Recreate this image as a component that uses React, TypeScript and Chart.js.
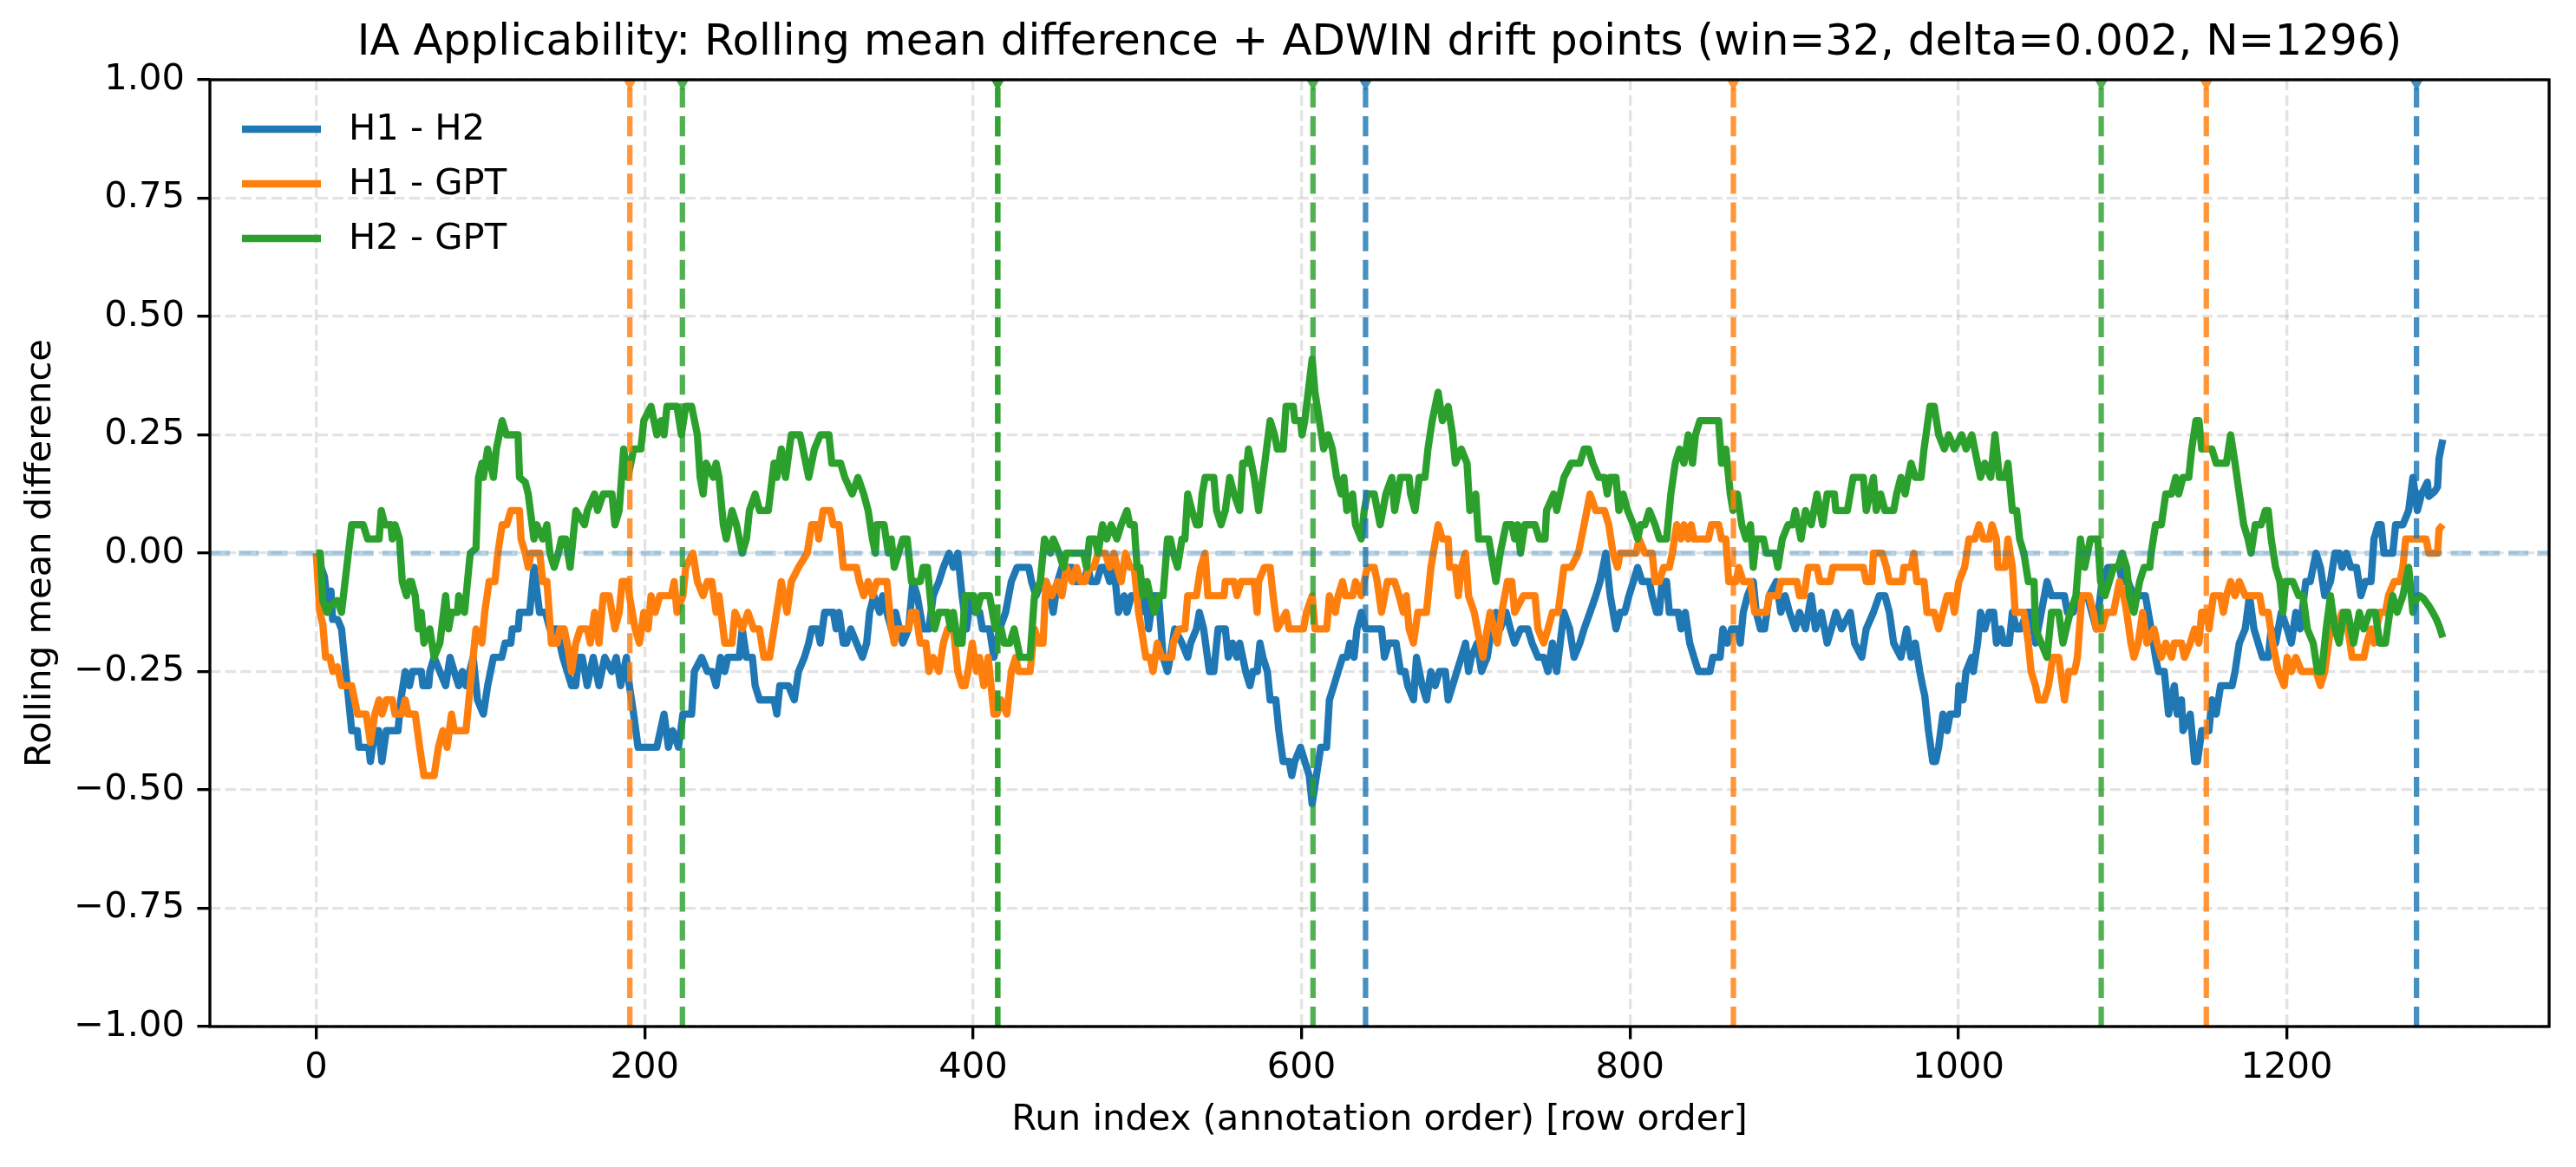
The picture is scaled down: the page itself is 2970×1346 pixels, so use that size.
import React, { useEffect, useRef } from "react";
import { Chart, registerables } from "chart.js";

Chart.register(...registerables);

// ---------- data (run index, rolling mean difference) ----------
const TITLE = "IA Applicability: Rolling mean difference + ADWIN drift points (win=32, delta=0.002, N=1296)";
const X_LABEL = "Run index (annotation order) [row order]";
const Y_LABEL = "Rolling mean difference";
const SERIES_LABELS = ["H1 - H2", "H1 - GPT", "H2 - GPT"];
const X_TICKS = [0, 200, 400, 600, 800, 1000, 1200];
const Y_TICKS = [-1, -0.75, -0.5, -0.25, 0, 0.25, 0.5, 0.75, 1];

const H1_H2: [number, number][] = [
  [0,0],[5,-0.05],[6.6,-0.1],[9,-0.08],[10,-0.14],[13,-0.14],[15.4,-0.16],[21.6,-0.375],[25,-0.375],[26,-0.41],[32,-0.41],[33,-0.44],[35.7,-0.375],[38,-0.375],[40,-0.44],[42.7,-0.375],[49.8,-0.375],[51.5,-0.31],[54.2,-0.25],[56.8,-0.28],[58.6,-0.25],[64,-0.25],[65,-0.28],[68.5,-0.28],[69.2,-0.25],[71.8,-0.22],[75.3,-0.25],[78.8,-0.28],[81.5,-0.22],[84,-0.25],[86.8,-0.28],[89,-0.25],[91.2,-0.28],[95.6,-0.22],[98.2,-0.31],[101.8,-0.34],[104.4,-0.28],[107.9,-0.22],[113,-0.22],[115,-0.19],[118.5,-0.19],[119.4,-0.16],[123,-0.16],[123.8,-0.125],[130,-0.125],[132.6,-0.03],[136,-0.125],[139.6,-0.125],[142.3,-0.16],[146.5,-0.16],[150.2,-0.22],[155.5,-0.28],[158,-0.28],[159.9,-0.22],
  [162,-0.22],[165,-0.28],[168.7,-0.22],[172.2,-0.28],[175.7,-0.22],[180,-0.25],[182.7,-0.22],[185.4,-0.28],[188.9,-0.22],[190.7,-0.28],[193.3,-0.34],[196,-0.41],[207.4,-0.41],[211.8,-0.34],[214.5,-0.41],[217.1,-0.375],[220.6,-0.41],[223.3,-0.34],[228.6,-0.34],[230.3,-0.25],[234.7,-0.22],[238.2,-0.25],[241,-0.25],[243.5,-0.28],[246.2,-0.22],[248.8,-0.25],[250.6,-0.22],[257.6,-0.22],[259.4,-0.16],[262,-0.22],[265.6,-0.22],[267.3,-0.28],[270,-0.31],[278.8,-0.31],[280.5,-0.34],[282.3,-0.28],[287.6,-0.28],[291.1,-0.31],[293.7,-0.25],[297.3,-0.22],[299.9,-0.19],[301.7,-0.16],[305.2,-0.16],[307,-0.19],[309.6,-0.125],[314.9,-0.125],[316.6,-0.16],[318.4,-0.125],[321,-0.19],
  [322.9,-0.19],[325.5,-0.16],[329,-0.19],[332.6,-0.22],[335.2,-0.19],[337,-0.125],[339.6,-0.09],[343.1,-0.125],[344.9,-0.09],[347.5,-0.125],[350.2,-0.16],[352.8,-0.125],[357.2,-0.19],[360.7,-0.16],[363.4,-0.06],[366,-0.09],[369.5,-0.16],[373.1,-0.16],[375.7,-0.09],[379.2,-0.06],[381.9,-0.03],[385.4,0],[388,-0.03],[390.7,0],[393.3,-0.09],[396,-0.16],[398.6,-0.09],[401.3,-0.125],[404,-0.125],[405.7,-0.16],[410,-0.16],[412.7,-0.22],[416.2,-0.16],[419.8,-0.125],[423.3,-0.06],[426.8,-0.03],[433.9,-0.03],[435.6,-0.06],[438.3,-0.09],[441.8,-0.06],[444.4,-0.06],[447.1,-0.09],[448.8,-0.125],[451.5,-0.06],[454.1,-0.03],[460.3,-0.03],[462.1,-0.06],[467.3,-0.06],[470,-0.03],[471.7,-0.06],[475.3,-0.06],[477.9,-0.03],[480.5,-0.03],[483.2,-0.06],[485.8,-0.03],[488.5,-0.125],
  [492,-0.09],[493.7,-0.125],[496.4,-0.09],[501,-0.09],[502.5,-0.125],[505.2,-0.09],[506.9,-0.16],[509.6,-0.09],[513,-0.09],[515.7,-0.22],[518.4,-0.25],[520.1,-0.22],[522.8,-0.16],[527.2,-0.19],[530.7,-0.22],[532.5,-0.19],[536,-0.16],[537.8,-0.125],[540.4,-0.16],[543.9,-0.25],[546.6,-0.25],[549.2,-0.16],[553.6,-0.16],[555.4,-0.22],[558,-0.19],[560.7,-0.22],[562.4,-0.19],[566,-0.25],[568.6,-0.28],[570.4,-0.25],[573,-0.25],[574.7,-0.19],[576.5,-0.22],[579.2,-0.25],[580.9,-0.31],[584.4,-0.31],[586.2,-0.375],[588.8,-0.44],[592.4,-0.44],[594.1,-0.47],[595.9,-0.44],[599.4,-0.41],[602,-0.44],[604.7,-0.47],[606.5,-0.53],[609.1,-0.47],[611.7,-0.41],[615.3,-0.41],[617,-0.31],[619.7,-0.28],[622.3,-0.25],[625,-0.22],[627.6,-0.22],[629.4,-0.19],[632,-0.22],[633.8,-0.16],[636.4,-0.125],[639.1,-0.16],[648.7,-0.16],[650.5,-0.22],[653.1,-0.19],
  [657.6,-0.19],[660.3,-0.25],[663,-0.25],[664.7,-0.28],[668.2,-0.31],[670,-0.22],[673.5,-0.28],[676.1,-0.31],[678.8,-0.25],[681.4,-0.28],[684,-0.25],[687.6,-0.25],[689.3,-0.31],[692,-0.28],[694.6,-0.25],[697.3,-0.22],[699.9,-0.19],[701.7,-0.25],[703.4,-0.22],[707,-0.19],[709.6,-0.25],[713.1,-0.22],[715.7,-0.16],[718.4,-0.125],[721,-0.16],[724.6,-0.125],[727.2,-0.16],[729.8,-0.19],[733.4,-0.16],[737.8,-0.16],[740.4,-0.19],[744,-0.22],[747.5,-0.22],[750.1,-0.25],[752.8,-0.19],[755.4,-0.25],[759.8,-0.125],[763.3,-0.16],[766,-0.22],[769.5,-0.19],[772.1,-0.16],[775.7,-0.125],[779.2,-0.09],[781.8,-0.06],[785.3,0],[788,-0.09],[791.5,-0.16],[794.1,-0.125],[796.8,-0.125],[799.4,-0.09],[802.1,-0.06],[804.7,-0.03],[807.4,-0.06],[811.8,-0.06],[813.5,-0.09],[816.2,-0.125],
  [817.9,-0.125],[819.6,-0.06],[822.3,-0.06],[824,-0.125],[829.4,-0.125],[831.1,-0.16],[833.7,-0.125],[836.4,-0.19],[839,-0.22],[841.7,-0.25],[848.7,-0.25],[850.5,-0.22],[854.9,-0.22],[856.6,-0.16],[859.3,-0.19],[861.9,-0.16],[865.5,-0.16],[867.2,-0.19],[869,-0.125],[871.6,-0.09],[875.1,-0.06],[876.9,-0.125],[879.5,-0.16],[882,-0.16],[884.8,-0.09],[889.2,-0.06],[891.9,-0.125],[894.5,-0.09],[897.2,-0.125],[900.7,-0.16],[903.3,-0.125],[906.9,-0.16],[910.4,-0.09],[913,-0.16],[916.5,-0.125],[920.1,-0.19],[922.7,-0.16],[925.4,-0.125],[928.9,-0.16],[934.2,-0.125],[936.8,-0.19],[941.2,-0.22],[943.9,-0.16],[948.3,-0.125],[951.8,-0.09],[955.3,-0.09],[958,-0.125],[960.6,-0.19],[965,-0.22],[968.5,-0.16],[971.2,-0.22],[973.8,-0.19],[976.5,-0.25],[978.2,-0.28],
  [979.5,-0.3],[981.8,-0.375],[984.4,-0.44],[986.2,-0.44],[988,-0.41],[990.6,-0.34],[993.2,-0.375],[995,-0.34],[999.4,-0.34],[1000.3,-0.28],[1002.9,-0.31],[1004.7,-0.25],[1008.2,-0.22],[1009.1,-0.25],[1011.7,-0.19],[1013.5,-0.125],[1016.1,-0.16],[1018.8,-0.125],[1021.5,-0.125],[1023.2,-0.19],[1025.8,-0.16],[1027.6,-0.19],[1031,-0.19],[1032.9,-0.125],[1035.5,-0.16],[1038,-0.16],[1041.7,-0.125],[1044.3,-0.125],[1047,-0.19],[1050.5,-0.125],[1054,-0.06],[1056.7,-0.09],[1064.6,-0.09],[1066.4,-0.125],[1069.9,-0.125],[1073.4,-0.09],[1078.6,-0.09],[1081.3,-0.125],[1084,-0.16],[1087.5,-0.06],[1091,-0.03],[1098.1,-0.03],[1099.8,-0.06],[1103.3,-0.06],[1106.9,-0.09],[1113.9,-0.09],[1117.4,-0.16],[1120.1,-0.22],[1121.8,-0.25],[1125.4,-0.25],[1128,-0.34],[1131.5,-0.28],[1133.3,-0.34],[1135.9,-0.31],[1136.8,-0.375],[1141.2,-0.34],[1143.9,-0.44],
  [1145.6,-0.44],[1148.2,-0.375],[1152.6,-0.375],[1154.4,-0.31],[1157,-0.34],[1159.7,-0.28],[1166.7,-0.28],[1168.5,-0.25],[1171.1,-0.19],[1174.7,-0.16],[1177.3,-0.09],[1180,-0.16],[1182.6,-0.19],[1185.2,-0.22],[1188.7,-0.22],[1190.5,-0.16],[1193.2,-0.19],[1196.7,-0.125],[1200.2,-0.16],[1202.8,-0.19],[1205.5,-0.125],[1208.1,-0.16],[1211.6,-0.06],[1214.3,-0.06],[1217.8,0],[1220.5,-0.03],[1223.1,-0.09],[1226.6,-0.06],[1229.3,0],[1231.9,0],[1233.7,-0.03],[1236.3,0],[1239,-0.03],[1242.5,-0.03],[1245.1,-0.09],[1247.8,-0.06],[1251.3,-0.06],[1253.1,0.03],[1255.7,0.06],[1257.5,0.06],[1259.2,0],[1264.5,0],[1266.3,0.06],[1270.7,0.06],[1274.2,0.09],[1276.8,0.16],[1279.5,0.09],[1282.1,0.125],[1285.6,0.15],[1286.5,0.12],[1290,0.13],[1291.8,0.14],[1292.7,0.2],[1295,0.24],
];

const H1_GPT: [number, number][] = [
  [0,0],[2.2,-0.125],[4,-0.15],[5.7,-0.22],[8.4,-0.22],[10.1,-0.25],[12.8,-0.24],[15.4,-0.28],[21.6,-0.28],[25.1,-0.34],[30.4,-0.34],[33,-0.4],[35.7,-0.34],[38.3,-0.31],[40.1,-0.34],[42.7,-0.31],[46.3,-0.31],[48,-0.34],[52,-0.34],[54.2,-0.31],[56,-0.34],[60.3,-0.34],[63,-0.41],[65.6,-0.47],[71.8,-0.47],[74.4,-0.41],[77.1,-0.375],[79.7,-0.41],[82.4,-0.34],[84.1,-0.375],[91.2,-0.375],[93.8,-0.28],[97.3,-0.16],[100.9,-0.19],[102.6,-0.125],[105.3,-0.06],[108.8,-0.06],[110.6,0],[113.2,0.06],[116,0.06],[118.5,0.09],[123.8,0.09],[124.7,0.03],[127.3,0],[129.1,-0.03],[130.9,0],[136.1,0],[137.9,-0.06],[140.5,-0.06],[143.2,-0.19],[146.7,-0.19],[148.4,-0.16],[151,-0.16],[152.8,-0.19],[155.5,-0.25],[158.1,-0.19],[160.8,-0.16],
  [165.1,-0.16],[166.9,-0.19],[169.5,-0.125],[172.2,-0.19],[174.8,-0.09],[178.4,-0.09],[181.9,-0.16],[184.5,-0.125],[186.3,-0.06],[189.8,-0.06],[190.7,-0.09],[194.2,-0.16],[196.8,-0.19],[199.5,-0.125],[202.1,-0.16],[203.9,-0.09],[206.5,-0.125],[209.2,-0.09],[216.2,-0.09],[218,-0.06],[219.7,-0.125],[223.3,-0.09],[225,-0.03],[229.4,0],[232.1,-0.06],[235.6,-0.09],[238.2,-0.06],[240.9,-0.06],[243.5,-0.125],[245.3,-0.09],[248.8,-0.19],[253.2,-0.19],[255,-0.125],[259.4,-0.16],[262.9,-0.125],[266.4,-0.16],[269.9,-0.16],[272.6,-0.22],[276.1,-0.22],[278.8,-0.16],[283.2,-0.06],[286.7,-0.125],[289.3,-0.06],[293.7,-0.03],[299,0],[301.7,0.06],[305.2,0.06],[306,0.03],[308.7,0.09],[313.1,0.09],[314.9,0.06],[318.4,0.06],[321,-0.03],
  [329,-0.03],[330.8,-0.06],[333.4,-0.09],[336.1,-0.06],[338.7,-0.09],[341.4,-0.06],[347.5,-0.06],[350.2,-0.16],[352,-0.19],[353.7,-0.16],[360.7,-0.16],[362.5,-0.125],[365.1,-0.125],[367.8,-0.19],[371.3,-0.19],[373.1,-0.25],[375.7,-0.22],[379.2,-0.25],[381.9,-0.19],[384.5,-0.16],[388,-0.16],[390.7,-0.25],[393.3,-0.28],[395.1,-0.28],[396.9,-0.25],[399.5,-0.19],[402.1,-0.25],[403.9,-0.22],[406.5,-0.28],[409.2,-0.22],[412.7,-0.34],[414.5,-0.34],[417.1,-0.31],[420.6,-0.34],[423.3,-0.25],[425.9,-0.22],[427.7,-0.25],[434.7,-0.25],[437.4,-0.16],[440,-0.19],[442.6,-0.19],[444.4,-0.06],[447.9,-0.09],[451.5,-0.06],[454.1,-0.09],[456.8,-0.03],[460.3,-0.06],[463,-0.03],[465.6,-0.06],[468.2,-0.06],[470.9,-0.03],[473.5,-0.03],[476.1,0],[480.5,0],[483.2,-0.03],[485.8,0],[487.6,-0.03],[490.2,-0.06],
  [492.8,0],[495.5,-0.03],[498.1,-0.03],[500.8,-0.125],[502.5,-0.16],[505.2,-0.22],[507.8,-0.22],[509.6,-0.25],[512.2,-0.19],[514.8,-0.22],[521,-0.22],[521.9,-0.19],[525.4,-0.16],[529,-0.16],[530.7,-0.09],[536,-0.09],[538.6,-0.03],[541.3,0],[543,-0.09],[552.8,-0.09],[553.6,-0.06],[558.9,-0.06],[560.7,-0.09],[563.3,-0.06],[571.2,-0.06],[573,-0.125],[573.9,-0.06],[577.4,-0.03],[580.9,-0.03],[582.7,-0.09],[585.3,-0.16],[590.6,-0.125],[592.4,-0.16],[601.2,-0.16],[603,-0.125],[606.5,-0.09],[608.2,-0.16],[615.3,-0.16],[617,-0.09],[620.6,-0.125],[622.3,-0.09],[625,-0.06],[626.7,-0.09],[631.1,-0.09],[632.9,-0.06],[636.4,-0.09],[640,-0.03],[644.3,-0.03],[646.1,-0.06],[648.7,-0.125],[652.3,-0.06],
  [656.7,-0.06],[659.4,-0.09],[662,-0.125],[663.8,-0.09],[665.5,-0.16],[668.2,-0.19],[670.8,-0.125],[676.1,-0.125],[678.8,-0.03],[683.2,0.06],[685.8,0.03],[689.3,0.03],[690.2,-0.03],[693.7,-0.03],[695.5,-0.09],[697.3,-0.03],[699.9,0],[701.7,-0.09],[705.2,-0.125],[708.7,-0.19],[710.5,-0.22],[713.1,-0.16],[714.9,-0.125],[719.3,-0.19],[721.9,-0.125],[725.4,-0.06],[728.1,-0.06],[729.8,-0.125],[735.1,-0.09],[742.2,-0.09],[744,-0.16],[747.5,-0.19],[750.1,-0.16],[752.8,-0.125],[756.3,-0.125],[759.8,-0.03],[764.2,-0.03],[768.6,0],[772.1,0.06],[775.7,0.125],[779.2,0.09],[784.5,0.09],[787.1,0.06],[789.7,0],[792.4,-0.03],[794.1,0],[803.8,0],[805.6,0.03],[809.1,0],[813.5,0],[815.3,-0.06],
  [817.9,-0.06],[820.5,-0.03],[824,-0.03],[825.8,0],[828.5,0.06],[831.1,0.03],[832.9,0.06],[835.5,0.03],[837.3,0.06],[839,0.03],[847.8,0.03],[849.6,0.06],[854,0.06],[855.8,0.03],[858.4,0.03],[860.2,-0.06],[864.6,-0.06],[866.3,-0.03],[869,-0.06],[873.4,-0.06],[876,-0.125],[883.1,-0.125],[884.8,-0.09],[890.1,-0.09],[891.9,-0.06],[901.6,-0.06],[903.3,-0.09],[906,-0.09],[908.6,-0.03],[913.9,-0.03],[915.7,-0.06],[921.9,-0.06],[923.6,-0.03],[942.1,-0.03],[943.9,-0.06],[947.4,-0.06],[948.3,0],[953.6,0],[956.2,-0.03],[958,-0.06],[965.9,-0.06],[966.8,-0.03],[971.2,-0.03],[972.9,0],[974.7,-0.06],[979.1,-0.06],[980.9,-0.125],
  [985.3,-0.125],[988,-0.16],[990.6,-0.125],[993.2,-0.09],[995.9,-0.09],[997.6,-0.125],[1000.3,-0.06],[1003.8,-0.03],[1006.5,0.03],[1010,0.03],[1012.6,0.06],[1015.3,0.03],[1018.8,0.03],[1020.5,0.06],[1023.2,0.03],[1024.1,-0.03],[1028.5,-0.03],[1030.2,0.03],[1032.9,-0.03],[1034.6,-0.125],[1039.9,-0.125],[1042.6,-0.19],[1044.3,-0.25],[1047,-0.28],[1048.7,-0.31],[1052.3,-0.31],[1054.9,-0.28],[1057.5,-0.22],[1061.1,-0.22],[1064.6,-0.31],[1067.2,-0.25],[1070.8,-0.25],[1072.5,-0.22],[1075.2,-0.09],[1079.6,-0.09],[1082.2,-0.125],[1084,-0.16],[1087.5,-0.16],[1090.1,-0.125],[1094.5,-0.125],[1098.1,-0.06],[1100.7,-0.09],[1102.5,-0.125],[1105.1,-0.19],[1106.9,-0.22],[1109.5,-0.19],[1112.2,-0.125],[1114.8,-0.19],[1119.2,-0.16],[1121,-0.19],[1123.6,-0.22],[1126.3,-0.19],[1129.8,-0.22],[1131.5,-0.19],[1135.9,-0.19],[1137.7,-0.22],[1141.2,-0.19],[1143.9,-0.16],
  [1146.5,-0.19],[1148.2,-0.125],[1151.7,-0.125],[1152.6,-0.16],[1155.3,-0.09],[1159.7,-0.09],[1161.4,-0.125],[1163.2,-0.09],[1165.8,-0.06],[1168.5,-0.09],[1171.1,-0.06],[1174.7,-0.09],[1183.5,-0.09],[1185.2,-0.125],[1188.7,-0.125],[1191.4,-0.19],[1194.9,-0.25],[1198.4,-0.28],[1200.2,-0.22],[1202.8,-0.25],[1205.5,-0.22],[1209,-0.25],[1217.8,-0.25],[1220.5,-0.28],[1223.1,-0.25],[1226.6,-0.16],[1230.2,-0.16],[1233.7,-0.125],[1237.2,-0.16],[1239.8,-0.22],[1246.9,-0.22],[1248.7,-0.19],[1251.3,-0.16],[1253.1,-0.19],[1256.6,-0.125],[1260.1,-0.125],[1261.9,-0.09],[1265.4,-0.06],[1268.9,-0.06],[1270.7,-0.03],[1272.4,0.03],[1284.8,0.03],[1286.5,0],[1291.8,0],[1292.7,0.05],[1295,0.06],
];

const H2_GPT: [number, number][] = [
  [0,0],[2.5,0],[4,-0.1],[6.6,-0.125],[9,-0.11],[12.8,-0.1],[15.4,-0.125],[21.6,0.06],[28.6,0.06],[31.3,0.03],[38.3,0.03],[39.6,0.09],[41.8,0.06],[45.4,0.06],[46.3,0.03],[48,0.06],[50.7,0.03],[52.4,-0.06],[55,-0.09],[56.8,-0.06],[58,-0.06],[60.3,-0.09],[62.1,-0.16],[63.9,-0.125],[65.6,-0.19],[69.2,-0.16],[71.8,-0.22],[75.3,-0.19],[78.8,-0.09],[80.6,-0.16],[82.4,-0.125],[86,-0.125],[86.8,-0.09],[90.3,-0.125],[93.8,0],[97.3,0.01],[98.8,0.16],[100.9,0.19],[101.8,0.16],[104.4,0.22],[107.9,0.16],[109.7,0.22],[113.2,0.28],[115.8,0.25],[122.9,0.25],[123.8,0.16],[127.3,0.15],[129.1,0.125],[132.6,0.03],[134.3,0.06],[137.9,0.03],[140.5,0.06],[142.3,0],[144.9,-0.03],[147.5,0],[149.3,0.03],[151.9,0.03],[154.6,-0.03],[158.1,0.09],
  [163.4,0.06],[165.1,0.09],[169.5,0.125],[171.3,0.09],[174.8,0.125],[180.1,0.125],[181.9,0.06],[184.5,0.09],[187.2,0.22],[189.8,0.16],[191.6,0.19],[193.3,0.22],[197.7,0.22],[199.5,0.28],[203.9,0.31],[207.4,0.25],[210,0.28],[211.8,0.25],[213.6,0.31],[219.7,0.31],[222.4,0.25],[225,0.31],[228.6,0.31],[232.1,0.25],[233.8,0.16],[235.6,0.125],[237.4,0.19],[241.8,0.16],[243.5,0.19],[245.3,0.16],[247.9,0.06],[249.7,0.03],[253.2,0.09],[255.9,0.06],[259.4,0],[262,0.03],[263.8,0.09],[267.3,0.125],[270,0.09],[275.3,0.09],[278.8,0.19],[280.5,0.16],[283.2,0.22],[285.8,0.16],[289.3,0.25],[294.6,0.25],[296.4,0.22],[299.9,0.16],[303.4,0.22],[307,0.25],[312.2,0.25],[314,0.19],[319.3,0.19],[321.9,0.16],
  [326.4,0.125],[329.9,0.16],[333.4,0.125],[336.1,0.09],[338.7,0.03],[340.5,0],[341.4,0.06],[345.8,0.06],[348.4,0],[350.2,0.03],[352,-0.03],[354.6,0],[357.2,0.03],[359.9,0.03],[362.5,-0.06],[367.8,-0.06],[369.6,-0.03],[372.2,-0.03],[374.8,-0.125],[376.6,-0.16],[379.2,-0.125],[384.5,-0.125],[386.3,-0.16],[388,-0.125],[390.7,-0.19],[393.3,-0.19],[395.1,-0.09],[400.4,-0.09],[402.1,-0.125],[404.8,-0.09],[410,-0.09],[411.8,-0.125],[413.6,-0.16],[417.1,-0.16],[418.9,-0.19],[422.4,-0.19],[425,-0.16],[428.6,-0.22],[434.7,-0.22],[437.4,-0.09],[440.9,-0.06],[443.5,0.03],[447.1,0],[448.8,0.03],[452.4,0],[455,-0.03],[456.8,0],[467.3,0],[469.1,-0.03],[470.9,0.03],[474.4,0.03],[476.1,0],[478.8,0.06],[481.4,0.03],[484.1,0.06],[487.6,0.03],[490.2,0.06],
  [493.7,0.09],[495.5,0.06],[498.1,0.06],[499.9,-0.03],[501.6,-0.03],[503.4,-0.09],[506,-0.06],[507.8,-0.09],[510.4,-0.125],[513.1,-0.09],[515.7,-0.09],[518.4,0.03],[520.1,0.03],[521.9,0],[524.5,-0.03],[527.2,0.03],[529,0.03],[530.7,0.125],[533.3,0.09],[536,0.06],[537.8,0.06],[539.5,0.125],[541.3,0.16],[546.6,0.16],[548.3,0.09],[551,0.06],[553.6,0.09],[556.3,0.16],[558.9,0.125],[562.4,0.09],[564.2,0.19],[566.8,0.19],[567.7,0.22],[569.5,0.19],[571.2,0.16],[573.9,0.09],[576.5,0.16],[580.9,0.28],[583.6,0.25],[585.3,0.22],[588.8,0.22],[590.6,0.31],[595,0.31],[595.9,0.28],[599.4,0.28],[600.3,0.25],[602,0.28],[606.5,0.41],[608.2,0.34],[610.9,0.28],[613.5,0.22],[616.2,0.25],[618.8,0.22],[621.4,0.16],[624.1,0.125],[625.8,0.16],[627.6,0.09],[631.1,0.125],[632.9,0.06],[636.4,0.03],[638.2,0.09],[640,0.125],[644.3,0.125],[647.9,0.06],[651.4,0.125],[655,0.16],
  [656.7,0.09],[660.3,0.16],[665.5,0.16],[666.4,0.125],[669.1,0.09],[671.7,0.16],[675.2,0.16],[677,0.22],[679.6,0.28],[683.2,0.34],[685.8,0.28],[689.3,0.31],[692,0.25],[693.7,0.19],[697.3,0.22],[700.8,0.19],[702.5,0.09],[706.1,0.125],[707.8,0.03],[714,0.03],[718.4,-0.06],[721,0],[724.6,0.06],[728.1,0.06],[729.8,0.03],[731.6,0.06],[733.4,0],[736,0.06],[742.2,0.06],[744.8,0.03],[748.3,0.03],[749.2,0.09],[753.6,0.125],[755.4,0.09],[759.8,0.16],[764.2,0.19],[769.5,0.19],[772.1,0.22],[774.8,0.22],[777.4,0.19],[781,0.16],[784.5,0.16],[786.2,0.125],[788,0.16],[791.5,0.16],[793.3,0.09],[795.9,0.125],[798.6,0.09],[802.1,0.06],[804.7,0.03],[806.5,0.06],[809.1,0.06],[811.8,0.09],[815.3,0.06],[818,0.03],
  [822.3,0.03],[824.9,0.125],[827.6,0.19],[830.2,0.22],[832.9,0.19],[835.5,0.25],[838.1,0.19],[839.9,0.25],[842.6,0.28],[854,0.28],[855.8,0.19],[858.4,0.22],[861.1,0.125],[862.8,0.09],[865.5,0.125],[868.1,0.06],[870.7,0.03],[873.4,0.06],[875.1,-0.03],[876.9,0.03],[881.3,0.03],[883.1,0],[888.4,0],[890.1,-0.03],[892.8,0.03],[896.3,0.06],[899,0.06],[900.7,0.09],[904.2,0.03],[906.9,0.09],[910.4,0.06],[913.9,0.125],[917.4,0.06],[920.1,0.125],[924.5,0.125],[925.4,0.09],[932.4,0.09],[935.9,0.16],[942.1,0.16],[943.9,0.09],[948.3,0.16],[950,0.09],[952.7,0.125],[955.3,0.09],[960.6,0.09],[962.4,0.125],[965,0.16],[967.6,0.125],[969.4,0.16],[971.2,0.19],[973.8,0.16],[977.3,0.16],[979.1,0.22],[982.7,0.31],
  [985.3,0.31],[988,0.25],[991.5,0.22],[994.1,0.25],[997.6,0.22],[1002,0.25],[1004.7,0.22],[1008.2,0.25],[1011.7,0.19],[1013.5,0.16],[1016.1,0.19],[1019.7,0.16],[1022.3,0.25],[1025,0.16],[1028.5,0.16],[1030.2,0.19],[1032.9,0.09],[1035.5,0.09],[1037.3,0.03],[1039.9,0],[1042.6,-0.06],[1046.1,-0.06],[1047,-0.16],[1050.5,-0.19],[1054,-0.22],[1056.7,-0.125],[1061.1,-0.125],[1063.7,-0.19],[1068.1,-0.125],[1071.6,-0.09],[1074.3,0.03],[1076.9,-0.03],[1080.4,0.03],[1084.9,0.03],[1086.6,-0.06],[1089.3,-0.09],[1091.9,-0.06],[1094.5,-0.03],[1097.2,-0.03],[1099.8,0],[1102.5,-0.03],[1104.2,-0.09],[1106.9,-0.125],[1110.4,-0.06],[1113.1,-0.03],[1116.6,-0.03],[1117.4,0],[1120.1,0.06],[1123.6,0.06],[1126.3,0.125],[1129.8,0.125],[1132.4,0.16],[1134.2,0.125],[1136.8,0.16],[1140.3,0.16],[1142.1,0.22],[1144.7,0.28],
  [1146.5,0.28],[1148.2,0.22],[1154.4,0.22],[1157,0.19],[1163.2,0.19],[1165.8,0.25],[1168.5,0.19],[1171.1,0.125],[1173.8,0.06],[1176.4,0.03],[1178.2,0],[1180.8,0.06],[1184.3,0.06],[1187,0.09],[1188.7,0.09],[1190.5,0.03],[1193.2,-0.03],[1195.8,-0.06],[1197.6,-0.125],[1199.3,-0.06],[1203.7,-0.06],[1207.3,-0.09],[1209.9,-0.09],[1212.5,-0.16],[1216.1,-0.19],[1218.7,-0.25],[1221.3,-0.25],[1224,-0.16],[1226.6,-0.09],[1229.3,-0.16],[1231.9,-0.19],[1234.6,-0.125],[1237.2,-0.125],[1240.7,-0.19],[1244.2,-0.125],[1246.9,-0.16],[1250.4,-0.125],[1253.9,-0.125],[1256.6,-0.19],[1260.1,-0.19],[1262.7,-0.125],[1264.5,-0.09],[1267.2,-0.125],[1270.7,-0.09],[1274.2,-0.03],[1276.8,-0.125],[1279.5,-0.09],[1281,-0.09],[1283,-0.095],[1285,-0.104],[1287,-0.114],[1289,-0.126],[1291,-0.139],[1293,-0.156],[1295,-0.178],
];

// ADWIN drift points per pair (415 appears twice for H2 - GPT: overlapping detections)
const DRIFT_H1_H2 = [639, 1279];
const DRIFT_H1_GPT = [191, 863, 1151];
const DRIFT_H2_GPT = [223, 415, 415, 607, 1087];

// ---------- styling ----------
const COLORS = ["#1f77b4", "#ff7f0e", "#2ca02c"];
const DRIFT_COLORS = ["rgba(31,119,180,0.82)", "rgba(255,127,14,0.82)", "rgba(44,160,44,0.82)"];
const FONT = "DejaVu Sans";
const X_MIN = -64.75;
const X_MAX = 1359.75;
const PT = 300 / 72;

const toXY = (arr: [number, number][]) => arr.map(([x, y]) => ({ x, y }));

const frameAndLegend = {
  id: "frameAndLegend",
  afterDatasetsDraw(chart: any) {
    const { ctx, chartArea: a } = chart;
    ctx.save();
    ctx.strokeStyle = "#000";
    ctx.lineWidth = 0.8 * PT;
    ctx.strokeRect(a.left, a.top, a.right - a.left, a.bottom - a.top);
    ctx.restore();
  },
  afterDraw(chart: any) {
    const { ctx, chartArea: a } = chart;
    ctx.save();
    ctx.font = `${10 * PT}px "${FONT}"`;
    ctx.textBaseline = "middle";
    ctx.textAlign = "left";
    for (let i = 0; i < 3; i++) {
      const ds = chart.data.datasets[i];
      const y = a.top + 57 + i * 63;
      ctx.strokeStyle = ds.borderColor;
      ctx.lineWidth = 2 * PT;
      ctx.lineCap = "butt";
      ctx.beginPath();
      ctx.moveTo(a.left + 37, y);
      ctx.lineTo(a.left + 128, y);
      ctx.stroke();
      ctx.fillStyle = "#000";
      ctx.fillText(ds.label, a.left + 160, y + 1);
    }
    ctx.restore();
  },
};

function driftSet(x: number, color: string) {
  return {
    label: "_drift",
    data: [{ x, y: -1 }, { x, y: 1 }],
    borderColor: color,
    borderWidth: 1.5 * PT,
    borderDash: [5.55 * PT, 2.4 * PT],
    pointRadius: [0, 13],
    pointStyle: "triangle",
    pointRotation: 180,
    pointBackgroundColor: color,
    pointBorderWidth: 0,
    order: 1,
  };
}

export default function App() {
  const ref = useRef<HTMLCanvasElement | null>(null);
  useEffect(() => {
    if (!ref.current) return;
    const series = [H1_H2, H1_GPT, H2_GPT].map((d, i) => ({
      label: SERIES_LABELS[i],
      data: toXY(d),
      borderColor: COLORS[i],
      backgroundColor: COLORS[i],
      borderWidth: 2 * PT,
      pointRadius: 0,
      borderJoinStyle: "round",
      tension: 0,
      order: 4 - i,
    }));
    const drifts = [
      ...DRIFT_H1_H2.map((x) => driftSet(x, DRIFT_COLORS[0])),
      ...DRIFT_H1_GPT.map((x) => driftSet(x, DRIFT_COLORS[1])),
      ...DRIFT_H2_GPT.map((x) => driftSet(x, DRIFT_COLORS[2])),
    ];
    const zeroLine = {
      label: "_zero",
      data: [{ x: X_MIN, y: 0 }, { x: X_MAX, y: 0 }],
      borderColor: "rgba(31,119,180,0.32)",
      borderWidth: 1.5 * PT,
      borderDash: [5.55 * PT, 2.4 * PT],
      pointRadius: 0,
      order: 0,
    };
    const tickFont = { family: FONT, size: 10 * PT };
    const chart = new Chart(ref.current, {
      type: "line",
      data: { datasets: [...series, ...drifts, zeroLine] as any },
      options: {
        animation: false,
        responsive: false,
        devicePixelRatio: 1,
        events: [],
        layout: { padding: { left: 0, right: 31, top: 0, bottom: 0 } },
        plugins: {
          legend: { display: false },
          tooltip: { enabled: false },
          title: {
            display: true,
            text: TITLE,
            fullSize: false,
            color: "#000",
            font: { family: FONT, size: 12 * PT, weight: "normal", lineHeight: 1.2 },
            padding: { top: 20, bottom: 12 },
          },
        },
        scales: {
          x: {
            type: "linear",
            min: X_MIN,
            max: X_MAX,
            afterFit: (s: any) => { s.height = 162; },
            afterBuildTicks: (s: any) => { s.ticks = X_TICKS.map((v) => ({ value: v })); },
            ticks: { color: "#000", font: tickFont, padding: 9, maxRotation: 0, autoSkip: false, callback: (v: any) => String(v) },
            grid: {
              color: "rgba(176,176,176,0.35)",
              lineWidth: 0.8 * PT,
              drawTicks: true,
              tickLength: 3.5 * PT,
              tickColor: "#000",
              tickWidth: 0.8 * PT,
            },
            border: { display: false, dash: [2.96 * PT, 1.28 * PT] },
            title: { display: true, text: X_LABEL, color: "#000", font: { family: FONT, size: 10 * PT }, padding: { top: 0, bottom: 29 } },
          },
          y: {
            type: "linear",
            min: -1,
            max: 1,
            afterFit: (s: any) => { s.width = 242; },
            afterBuildTicks: (s: any) => { s.ticks = Y_TICKS.map((v) => ({ value: v })); },
            ticks: {
              color: "#000",
              font: tickFont,
              padding: 14.4,
              callback: (v: any) => (v < 0 ? "\u2212" : "") + Math.abs(Number(v)).toFixed(2),
            },
            grid: {
              color: "rgba(176,176,176,0.35)",
              lineWidth: 0.8 * PT,
              drawTicks: true,
              tickLength: 3.5 * PT,
              tickColor: "#000",
              tickWidth: 0.8 * PT,
            },
            border: { display: false, dash: [2.96 * PT, 1.28 * PT] },
            title: { display: true, text: Y_LABEL, color: "#000", font: { family: FONT, size: 10 * PT }, padding: { top: 22, bottom: 0 } },
          },
        },
      } as any,
      plugins: [frameAndLegend],
    });
    return () => chart.destroy();
  }, []);
  return (
    <div style={{ position: "absolute", left: 0, top: 0, width: 2970, height: 1346, background: "#fff" }}>
      <canvas ref={ref} width={2970} height={1346} style={{ display: "block" }} />
    </div>
  );
}
